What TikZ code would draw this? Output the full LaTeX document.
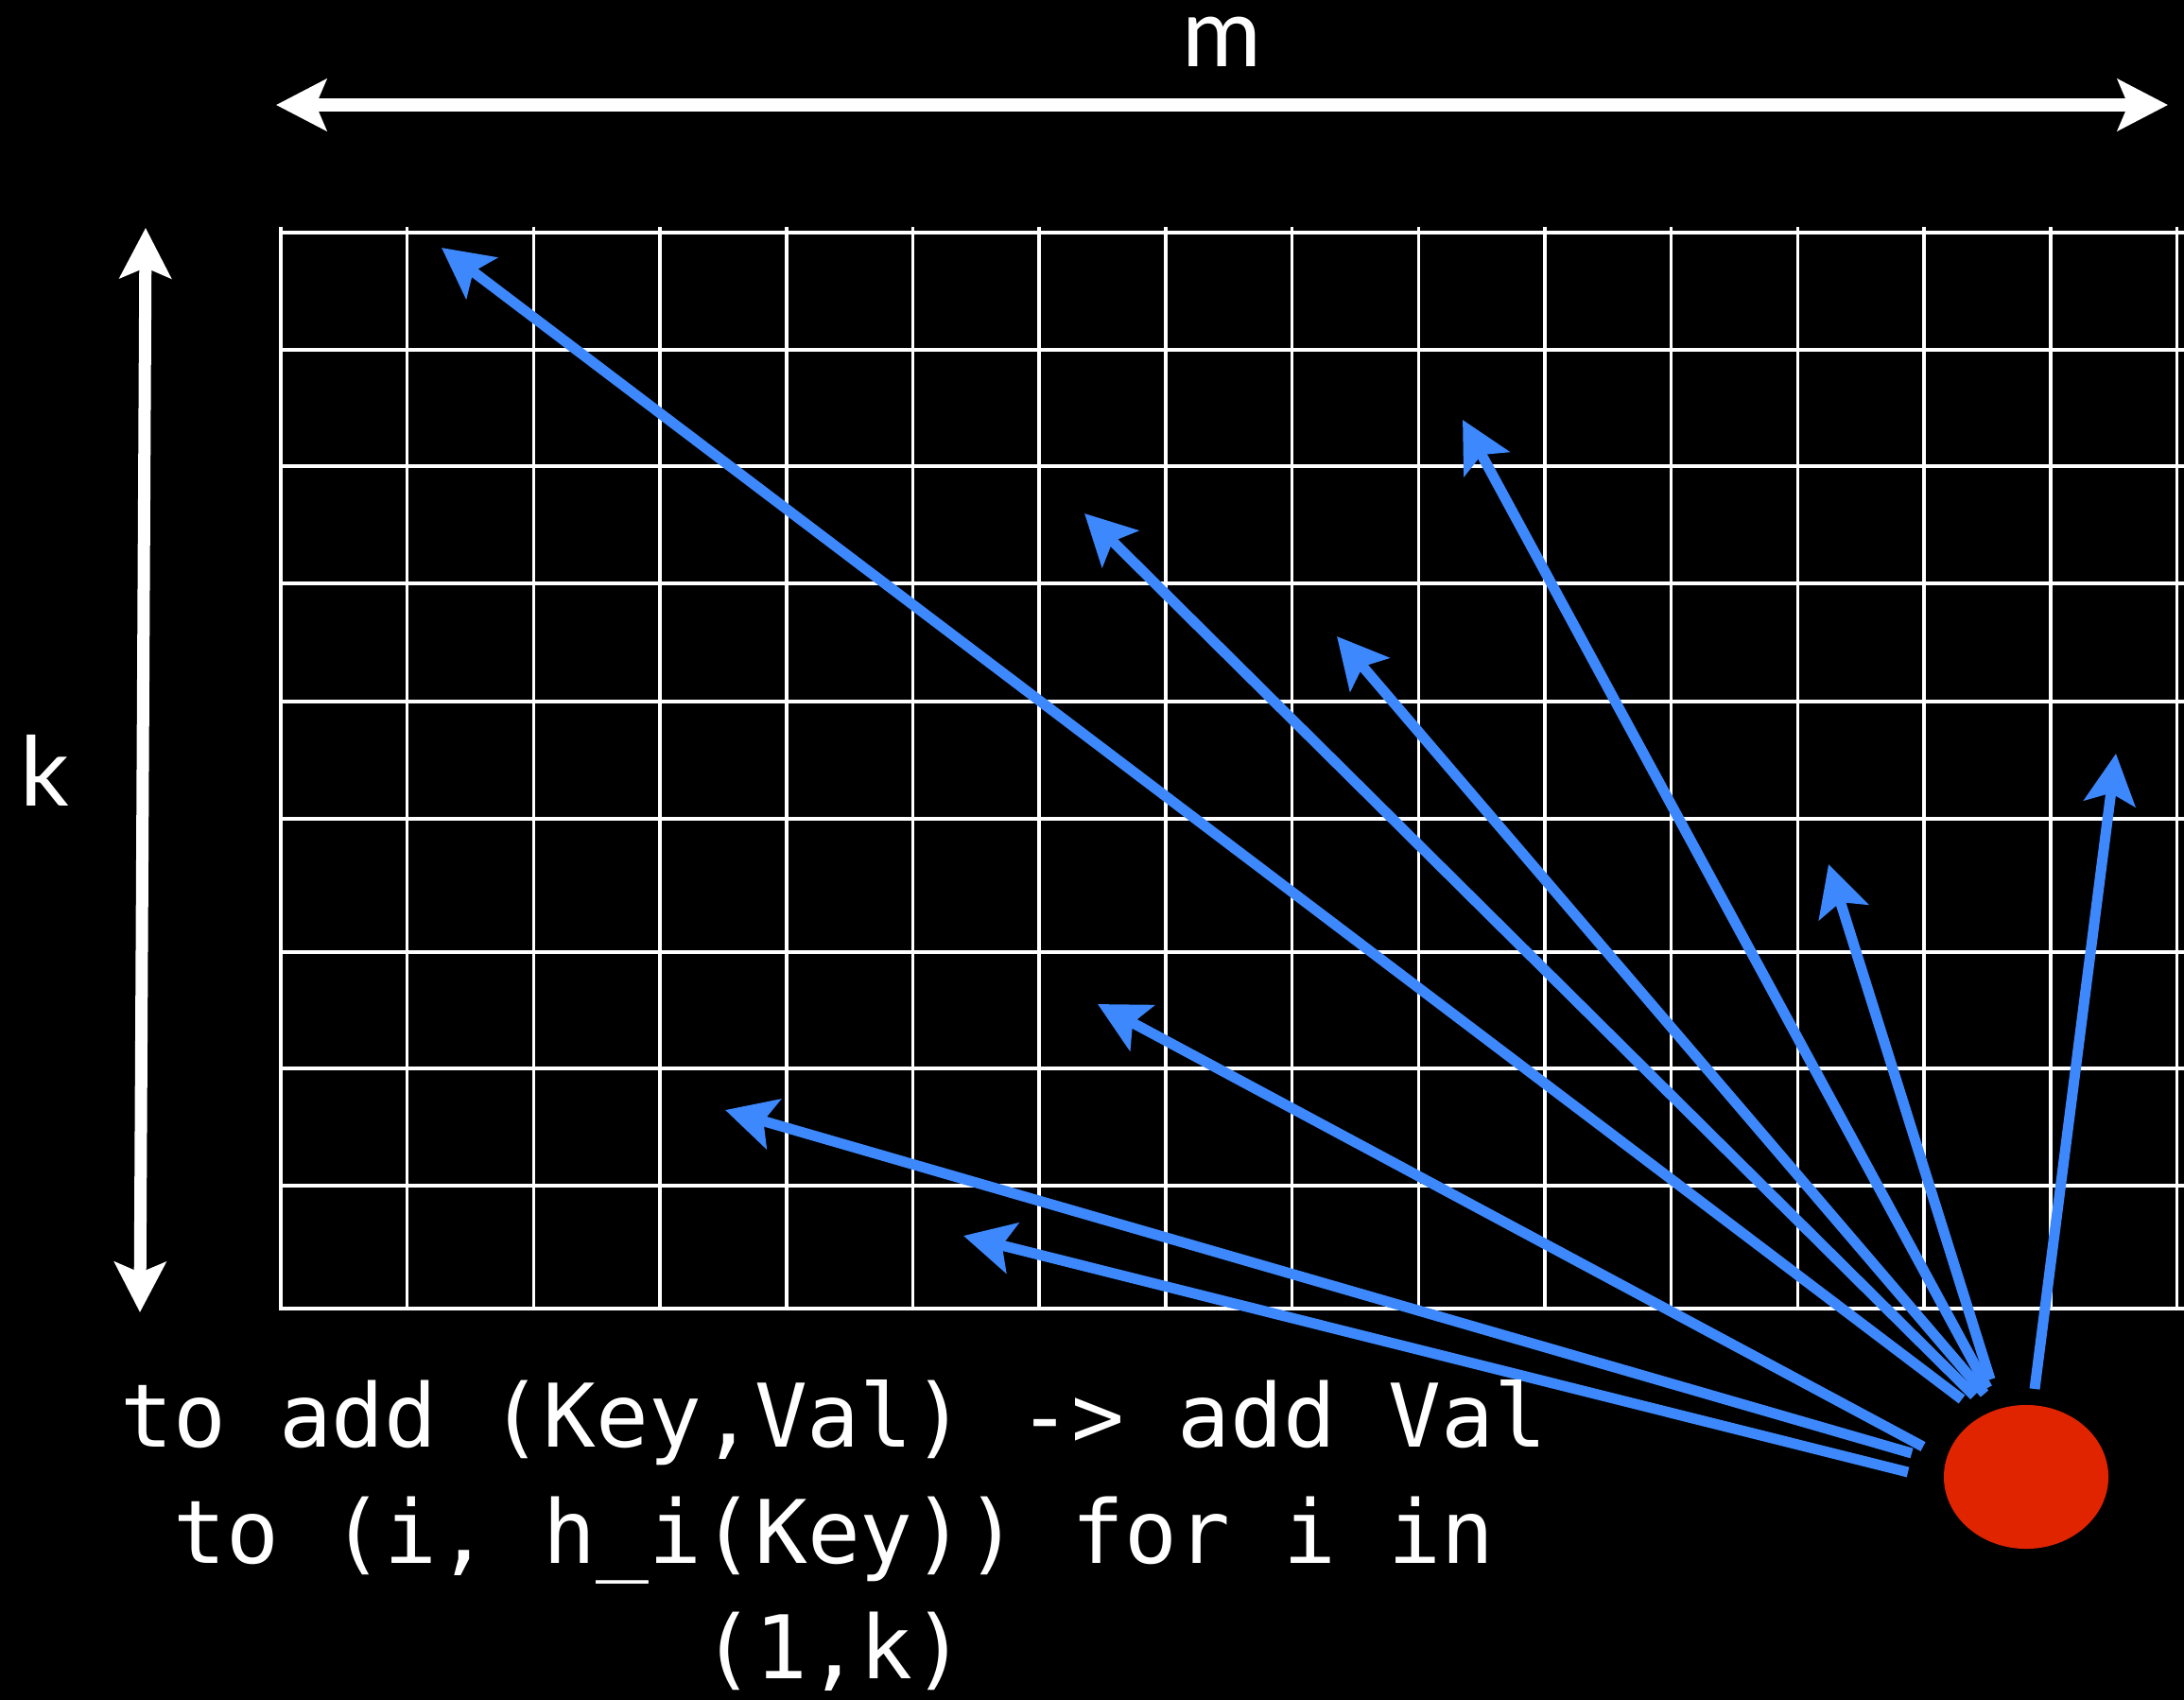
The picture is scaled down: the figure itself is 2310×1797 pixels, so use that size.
\documentclass[tikz,border=0pt]{standalone}
\usepackage{xcolor}
\usepackage{fontspec}
\setmonofont{DejaVu Sans Mono}
\newfontfamily\dimfont{Lato}
\usepackage{tikz}
\usetikzlibrary{positioning,arrows.meta,calc,shapes.geometric}
\definecolor{hashblue}{HTML}{3D88FD}
\definecolor{itemred}{HTML}{E02400}
\tikzset{
  tipc/.tip={Stealth[length=0.53cm,width=0.54cm,inset=0.11cm]},
  gridline/.style={white,line width=0.035cm},
  dimarrow/.style={white,line width=0.13cm,tipc-tipc},
  hasharrow/.style={hashblue,line width=0.11cm,-tipc},
  dimlabel/.style={white,inner sep=0pt,font=\dimfont\fontsize{29pt}{35pt}\selectfont},
  captext/.style={white,inner sep=0pt,align=center,font=\ttfamily\fontsize{26.4pt}{34.7pt}\selectfont}
}

\begin{document}
\begin{tikzpicture}[x=0.01cm,y=-0.01cm]
  \useasboundingbox (0,0) rectangle (2310,1797);
  \fill[black] (-20,-20) rectangle (2330,1817);
  \foreach \gx in {0,...,15} { \draw[gridline] ({297+133.7*\gx},240) -- ({297+133.7*\gx},1386); }
  \foreach \gy in {246,370,493,617,742,866,1007,1130,1254,1384} { \draw[gridline] (297,\gy) -- (2310,\gy); }
  \coordinate (mleft) at (292,111);
  \coordinate (mright) at (2293,111);
  \coordinate (ktop) at (154,241);
  \coordinate (kbot) at (148,1388);
  \draw[dimarrow] (mleft) -- (mright);
  \draw[dimarrow] (ktop) -- (kbot);
  \node[dimlabel,anchor=base] (mlabel) at (1292,71) {m};
  \node[dimlabel,anchor=base] (klabel) at (47,852) {k};
  \node[ellipse,fill=itemred,minimum width=1.74cm,minimum height=1.52cm,inner sep=0pt] (item) at (2143,1562) {};
  \foreach \n/\tx/\ty/\hx/\hy in {1/2075/1480/467/262, 2/2088/1476/1147/543, 3/2099/1474/1414/673,
      4/2102/1468/1547/444, 5/2105/1459/1934/914, 6/2152/1469/2238/797,
      7/2034/1530/1161/1062, 8/2022/1537/767/1174, 9/2018/1557/1019/1307} {
    \coordinate (from\n) at (\tx,\ty);
    \coordinate (to\n) at (\hx,\hy);
    \draw[hasharrow] (from\n) -- (to\n);
  }
  \node[captext,anchor=base] (caption) at (882,1775) {to add (Key,Val) -> add Val\\to (i, h\_i(Key)) for i in\\(1,k)};
\end{tikzpicture}
\end{document}
